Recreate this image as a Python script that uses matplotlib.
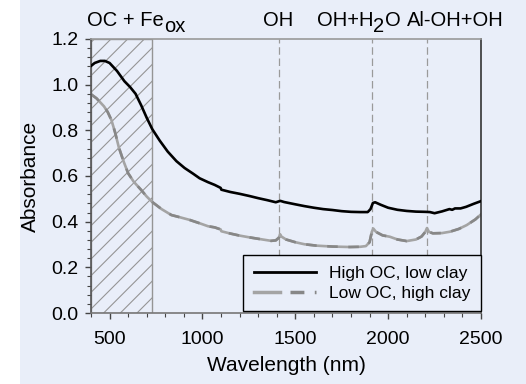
import matplotlib
matplotlib.use("Agg")
import matplotlib.pyplot as plt
from matplotlib.lines import Line2D
from matplotlib.patches import Rectangle
from matplotlib.ticker import MultipleLocator, FormatStrFormatter
from matplotlib.legend_handler import HandlerTuple

plt.rcParams['font.family'] = ['Liberation Sans', 'DejaVu Sans']
plt.rcParams['hatch.linewidth'] = 0.8

# Spectra: wavelength (nm) and absorbance
wl_high = [400, 420, 450, 475, 500, 540, 580, 610, 640, 670, 700, 730, 770, 813,
           860, 904, 950, 985, 1030, 1066, 1098, 1102, 1150, 1200, 1255, 1300,
           1350, 1395, 1410, 1420, 1440, 1500, 1550, 1600, 1650, 1700, 1750,
           1800, 1850, 1890, 1905, 1918, 1930, 1960, 2000, 2050, 2100, 2150,
           2200, 2225, 2250, 2290, 2330, 2345, 2360, 2390, 2420, 2460, 2500]
abs_high = [1.082, 1.095, 1.104, 1.104, 1.095, 1.06, 1.015, 0.99, 0.96, 0.91,
            0.855, 0.805, 0.755, 0.707, 0.665, 0.635, 0.61, 0.59, 0.573, 0.561,
            0.548, 0.54, 0.53, 0.522, 0.512, 0.503, 0.494, 0.485, 0.489, 0.491,
            0.486, 0.476, 0.468, 0.461, 0.455, 0.451, 0.446, 0.443, 0.442,
            0.442, 0.455, 0.482, 0.485, 0.474, 0.461, 0.452, 0.447, 0.444,
            0.443, 0.442, 0.437, 0.445, 0.455, 0.452, 0.458, 0.458, 0.465,
            0.478, 0.49]

wl_low = [400, 430, 470, 490, 510, 530, 550, 575, 600, 630, 670, 700, 730, 780,
          833, 880, 930, 985, 1030, 1066, 1098, 1102, 1150, 1200, 1255, 1300,
          1370, 1395, 1412, 1418, 1425, 1450, 1500, 1550, 1614, 1700, 1794,
          1850, 1880, 1900, 1912, 1920, 1935, 1970, 2009, 2050, 2100, 2150,
          2180, 2200, 2209, 2220, 2241, 2290, 2333, 2380, 2423, 2470, 2500]
abs_low = [0.958, 0.94, 0.905, 0.88, 0.845, 0.79, 0.725, 0.665, 0.612, 0.575,
           0.539, 0.51, 0.486, 0.455, 0.429, 0.419, 0.408, 0.393, 0.38, 0.375,
           0.366, 0.358, 0.348, 0.339, 0.331, 0.325, 0.316, 0.318, 0.33, 0.345,
           0.335, 0.322, 0.31, 0.301, 0.295, 0.291, 0.289, 0.29, 0.293, 0.31,
           0.355, 0.37, 0.355, 0.34, 0.334, 0.322, 0.315, 0.322, 0.335, 0.355,
           0.372, 0.355, 0.349, 0.35, 0.356, 0.368, 0.385, 0.41, 0.432]

# Absorption bands and the visible-range region
band_positions = [1414, 1914, 2209]
vis_region = [400, 730]

# Header labels as (text, subscript) pieces, with left edge in pixels
header_labels = [
    [('OC + Fe', False), ('ox', True)],
    [('OH', False)],
    [('OH+H', False), ('2', True), ('O', False)],
    [('Al-OH+OH', False)],
]
header_left = [87, 263, 317, 407]

series_labels = ['High OC, low clay', 'Low OC, high clay']

BG = '#E9EEF9'
W, H = 526, 384

fig = plt.figure(figsize=(W / 100, H / 100), dpi=100, facecolor='white')
fig.patches.append(Rectangle((20 / W, 0), 1 - 20 / W, 1, transform=fig.transFigure,
                             facecolor=BG, edgecolor='none', zorder=-10))

ax = fig.add_axes([91 / W, 1 - 313 / H, 390 / W, 274 / H])
ax.set_facecolor(BG)

ax.axvspan(vis_region[0], vis_region[1], facecolor='none', hatch='//',
           edgecolor='#959595', linewidth=1.0, zorder=1)

for b in band_positions:
    ax.axvline(b, color='#9a9a9a', lw=0.9, ls=(0, (6, 3)), zorder=1)

ax.plot(wl_high, abs_high, color='black', lw=1.9, zorder=3)
ax.plot(wl_low, abs_low, color='#a4a4a4', lw=1.9, zorder=2)
ax.plot(wl_low, abs_low, color='#878787', lw=1.9, ls=(0, (4, 4)), zorder=2.5)

ax.set_xlim(400, 2500)
ax.set_ylim(0, 1.2)
ax.xaxis.set_major_locator(MultipleLocator(500))
ax.xaxis.set_minor_locator(MultipleLocator(100))
ax.yaxis.set_major_locator(MultipleLocator(0.2))
ax.yaxis.set_minor_locator(MultipleLocator(0.04))
ax.yaxis.set_major_formatter(FormatStrFormatter('%.1f'))

ax.tick_params(axis='both', which='major', direction='out', length=4, width=1,
               color='#444444', labelsize=14, labelcolor='black', pad=5)
ax.tick_params(axis='both', which='minor', direction='out', length=3, width=0.8,
               color='#444444')
ax.tick_params(axis='x', which='major', pad=9)

ax.spines['left'].set_color('#555555')
ax.spines['bottom'].set_color('#777777')
ax.spines['top'].set_color('#999999')
ax.spines['right'].set_color('#333333')
for s in ax.spines.values():
    s.set_linewidth(1.2)

ax.set_xlabel('Wavelength (nm)', fontsize=15, labelpad=6)
ax.set_ylabel('Absorbance', fontsize=15, labelpad=8)

# Header labels with full-size, lowered subscripts
renderer = fig.canvas.get_renderer()
base_y = 1 - 26 / H
sub_y = 1 - 32 / H
for pieces, left in zip(header_labels, header_left):
    x = left
    for txt, is_sub in pieces:
        t = fig.text(x / W, sub_y if is_sub else base_y, txt, ha='left',
                     va='baseline', fontsize=14.5)
        x = t.get_window_extent(renderer).x1

h_high = Line2D([], [], color='black', lw=2)
h_low_a = Line2D([], [], color='#a4a4a4', lw=2.5)
h_low_b = Line2D([], [], color='#878787', lw=2.5, ls=(0, (4, 3)))
leg = ax.legend([h_high, (h_low_a, h_low_b)], series_labels,
                handler_map={tuple: HandlerTuple(ndivide=None)},
                loc='lower right', bbox_to_anchor=(1.0, 0.006), borderaxespad=0,
                fontsize=12.5, frameon=True, fancybox=False, facecolor=BG,
                edgecolor='black', framealpha=1, handlelength=3.6,
                handletextpad=0.75, borderpad=0.6, labelspacing=0.3)
leg.get_frame().set_linewidth(1.0)

fig.savefig('out.png', dpi=100, facecolor=fig.get_facecolor())
